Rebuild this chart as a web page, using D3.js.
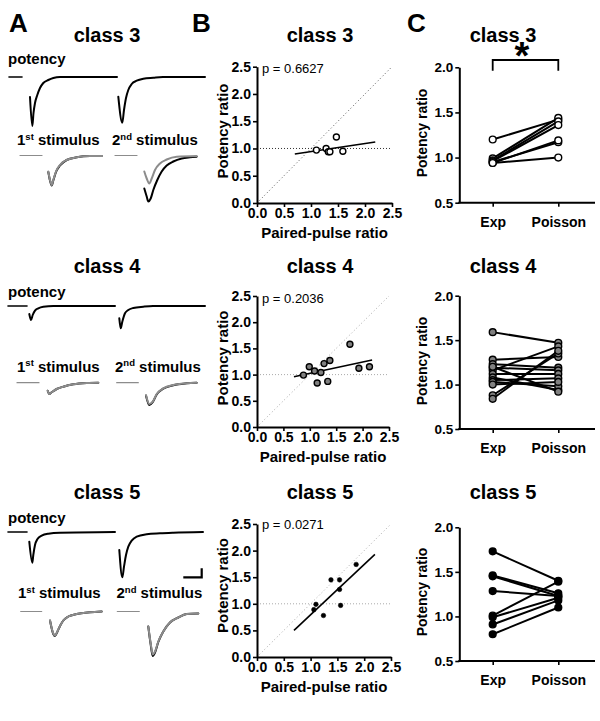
<!DOCTYPE html>
<html><head><meta charset="utf-8">
<script src="https://cdn.jsdelivr.net/npm/d3@7"></script>
<style>
body{margin:0;background:#fff}
svg{display:block}
</style></head><body>
<svg id="c" width="600" height="721"></svg>
<script>
// ================= DATA =================
const classNames = ["class 3", "class 4", "class 5"];
const panelLetters = ["A", "B", "C"];
const traceLabels = ["potency", "1", "st", " stimulus", "2", "nd", " stimulus"];

// Panel A: example traces, [time (ms), current (a.u.)]
const c3PotPre = [[1,0],[14,0]];
const c3Pot1 = [[22,-20],[24.3,-49],[25.5,-36],[27,-26],[29.3,-18],[32,-11],[35.3,-6],[40.3,-3],[45.3,-1],[52,0],[109,0]];
const c3Pot2 = [[110.3,-19.7],[114.3,-45.7],[116,-33],[118,-21],[120.3,-13],[123.7,-7],[128.7,-3.7],[135.3,-1.7],[145.3,-0.7],[155,0],[197,0]];
const c3S1Base = [[12,0],[34,0]];
const c3S1Black = [[40.3,-16.5],[42,-25],[43.7,-30],[45.3,-25],[48,-16.5],[52,-10],[58.7,-4.5],[68.7,-1.8],[82,-0.5],[93.7,-0.5]];
const c3S1Gray = [[40.3,-16],[42,-24.5],[43.7,-29.5],[45.3,-24.5],[48,-16],[52,-9.5],[58.7,-4.5],[68.7,-1.8],[82,-0.5],[93.7,-0.5]];
const c3S2Base = [[107,0],[129,0]];
const c3S2Black = [[136.3,-33],[138.7,-41],[140.3,-46],[142.7,-43],[145.3,-34.5],[149.3,-24.5],[153.7,-16],[158.7,-10],[165.3,-6],[173.7,-3],[182,-1.8],[188.7,-1.2]];
const c3S2Gray = [[136.3,-16],[138.7,-23],[141.3,-28],[143.7,-23],[147,-14.5],[152,-8],[158.7,-4],[168.7,-1.2],[188.7,-0.5]];

const c4PotPre = [[0,0],[19,0]];
const c4Pot1 = [[21.3,-8],[23,-14],[24.7,-9],[27,-4.7],[30.3,-2.3],[35.3,-0.7],[45.3,0],[107,0]];
const c4Pot2 = [[111.3,-12.3],[112.7,-22.3],[114.3,-15.7],[117,-7.3],[120.3,-4],[125.3,-2],[135.3,-0.7],[145,0],[197,0]];
const c4S1Base = [[9,0],[31,0]];
const c4S1Black = [[39.7,-8],[41.3,-11.3],[43.7,-9.6],[48.7,-6.3],[55.3,-4],[65.3,-1.6],[78.7,-0.3],[90.3,0]];
const c4S1Gray = [[39.7,-8],[41.3,-11.3],[43.7,-9.6],[48.7,-6.3],[55.3,-4],[65.3,-1.6],[78.7,-0.3],[90.3,0]];
const c4S2Base = [[108.7,0],[130.3,0]];
const c4S2Black = [[138,-13],[141.3,-22.3],[144.7,-19.5],[148.7,-11.8],[155.3,-6],[165.3,-2.5],[178.7,-0.6],[188.7,0]];
const c4S2Gray = [[138,-12.3],[141.3,-21.3],[144.7,-19],[148.7,-11.3],[155.3,-5.6],[165.3,-2.3],[178.7,-0.6],[188.7,0]];

const c5PotPre = [[0,0],[19,0]];
const c5Pot1 = [[21.3,-9.7],[24.3,-30.7],[25.3,-23],[27,-13],[29.3,-7.3],[33.7,-3.7],[40.3,-1.7],[52,-0.7],[107,0]];
const c5Pot2 = [[111.3,-18],[114.3,-45.3],[116,-34.7],[118,-23],[120.3,-14.7],[123.7,-8.7],[128.7,-4.7],[138.7,-2.3],[152,-1.3],[165.3,-0.7],[195,0]];
const c5S1Base = [[12.7,0],[33.7,0]];
const c5S1Black = [[42,-9],[45.3,-22.5],[47,-24.5],[49.3,-20.5],[52,-14.5],[55.3,-9],[60.3,-5],[68.7,-2.5],[82,-0.8],[93.7,0]];
const c5S1Gray = [[42,-9],[45.3,-22],[47,-24],[49.3,-20],[52,-14.5],[55.3,-9],[60.3,-5],[68.7,-2.5],[82,-0.8],[93.7,0]];
const c5S2Base = [[109.3,0],[131.3,0]];
const c5S2Black = [[140.3,-15],[142.7,-33],[144.7,-44.5],[147,-41],[150.3,-30.5],[155.3,-20],[162,-11],[170.3,-6],[178.7,-2.5],[190.3,-2]];
const c5S2Gray = [[140.3,-15],[142.7,-32],[144.7,-43],[147,-40],[150.3,-30],[155.3,-20],[162,-11],[170.3,-6],[178.7,-2.5],[190.3,-2]];
const scaleBarMs = [175.3, 193.7];
const scaleBarAmp = [0, 9];

// Panel B: paired-pulse ratio vs potency ratio
const ppr3 = [1.10, 1.28, 1.32, 1.35, 1.47, 1.59];
const pot3 = [0.97, 1.00, 0.94, 0.94, 1.21, 0.95];
const ppr4 = [0.88, 0.99, 1.09, 1.14, 1.21, 1.27, 1.34, 1.38, 1.76, 1.93, 2.13];
const pot4 = [0.99, 1.15, 1.07, 0.84, 1.04, 1.21, 0.87, 1.27, 1.58, 1.12, 1.15];
const ppr5 = [1.06, 1.10, 1.24, 1.38, 1.54, 1.54, 1.56, 1.85];
const pot5 = [0.89, 0.99, 0.78, 1.45, 1.45, 1.27, 0.97, 1.74];
const fitX3 = [0.70, 2.19], fitY3 = [0.90, 1.12];
const fitX4 = [0.70, 2.18], fitY4 = [0.96, 1.28];
const fitX5 = [0.69, 2.20], fitY5 = [0.50, 1.93];
const pValues = ["p = 0.6627", "p = 0.2036", "p = 0.0271"];
const bTicks = [0, 0.5, 1.0, 1.5, 2.0, 2.5];
const bXLabel = "Paired-pulse ratio";
const yLabel = "Potency ratio";

// Panel C: Exp vs Poisson potency ratio
const cCats = ["Exp", "Poisson"];
const cTicks = [0.5, 1.0, 1.5, 2.0];
const exp3 = [1.20, 0.99, 0.97, 0.96, 0.95, 0.94, 0.94];
const poi3 = [1.42, 1.44, 1.40, 1.36, 1.17, 1.19, 1.00];
const exp4 = [1.59, 1.28, 1.23, 1.19, 1.16, 1.12, 1.08, 1.05, 1.03, 1.00, 0.88, 0.84, 1.20];
const poi4 = [1.47, 1.31, 1.19, 1.16, 1.43, 1.12, 0.94, 1.07, 0.98, 1.03, 1.35, 1.38, 0.92];
const exp5 = [1.73, 1.46, 1.45, 1.285, 1.01, 0.99, 0.91, 0.80];
const poi5 = [1.40, 1.26, 1.23, 1.23, 1.39, 1.21, 1.18, 1.10];
const sigMark = "*";

// ================= LAYOUT / STYLE =================
const FONT = '"Liberation Sans", Arial, Helvetica, sans-serif';
const svg = d3.select("#c");
const LAY = [
  {title:42, potBase:77, stimBase:155.5, potLbl:64, stimLbl:145, s1x:17, s2x:112,
   B:{x0:257,x1:392,y0:203,y1:66.7,yl:131,p:72.7}, C:{y0:202.7,y1:67.3,yl:133}},
  {title:273, potBase:306, stimBase:382.7, potLbl:296.7, stimLbl:371.7, s1x:17, s2x:115,
   B:{x0:257,x1:389,y0:427,y1:296,yl:358,p:302.7}, C:{y0:429,y1:295.7,yl:361}},
  {title:499, potBase:532, stimBase:611.5, potLbl:523.3, stimLbl:598.3, s1x:18, s2x:116.5,
   B:{x0:257,x1:391,y0:657,y1:524,yl:585.5,p:529.3}, C:{y0:661,y1:527.3,yl:592}}
];
const CX = {x0:459.3, x1:595, a:492.7, b:558.3};
const GRAY = "#8c8c8c";

function txt(x, y, s, size, anchor) {
  return svg.append("text").attr("x", x).attr("y", y).text(s)
    .attr("font-family", FONT).attr("font-weight", "bold")
    .attr("font-size", size).attr("text-anchor", anchor || "start").attr("fill", "#000");
}

// panel letters
txt(9, 32, panelLetters[0], 26);
txt(192, 32, panelLetters[1], 26);
txt(407, 32, panelLetters[2], 26);

// ================= PANEL A =================
const xA = d3.scaleLinear().domain([0, 200]).range([8, 208]);
const traceSets = [
  {pre:c3PotPre, p1:c3Pot1, p2:c3Pot2, s1b:c3S1Base, s1k:c3S1Black, s1g:c3S1Gray, s2b:c3S2Base, s2k:c3S2Black, s2g:c3S2Gray},
  {pre:c4PotPre, p1:c4Pot1, p2:c4Pot2, s1b:c4S1Base, s1k:c4S1Black, s1g:c4S1Gray, s2b:c4S2Base, s2k:c4S2Black, s2g:c4S2Gray},
  {pre:c5PotPre, p1:c5Pot1, p2:c5Pot2, s1b:c5S1Base, s1k:c5S1Black, s1g:c5S1Gray, s2b:c5S2Base, s2k:c5S2Black, s2g:c5S2Gray}
];

LAY.forEach((L, i) => {
  const T = traceSets[i];
  txt(107, L.title, classNames[i], 20, "middle");
  txt(8, L.potLbl, traceLabels[0], 15);
  [[L.s1x, 1], [L.s2x, 4]].forEach(([x, k]) => {
    const t = txt(x, L.stimLbl, "", 15);
    t.append("tspan").text(traceLabels[k]);
    t.append("tspan").attr("font-size", 9.5).attr("dy", -5.5).text(traceLabels[k + 1]);
    t.append("tspan").attr("dy", 5.5).text(traceLabels[k + 2]);
  });
  const yP = d3.scaleLinear().domain([0, -60]).range([L.potBase, L.potBase + 60]);
  const yS = d3.scaleLinear().domain([0, -60]).range([L.stimBase, L.stimBase + 60]);
  const lp = d3.line().x(d => xA(d[0])).y(d => yP(d[1])).curve(d3.curveMonotoneX);
  const ls = d3.line().x(d => xA(d[0])).y(d => yS(d[1])).curve(d3.curveMonotoneX);
  const draw = (gen, data, color, w) => svg.append("path").attr("d", gen(data))
    .attr("fill", "none").attr("stroke", color).attr("stroke-width", w)
    .attr("stroke-linejoin", "round").attr("stroke-linecap", "round");
  draw(lp, T.pre, "#000", 1.6);
  draw(lp, T.p1, "#000", 2);
  draw(lp, T.p2, "#000", 2);
  draw(ls, T.s1b, GRAY, 1.2);
  draw(ls, T.s2b, GRAY, 1.2);
  draw(ls, T.s1k, "#000", 2);
  draw(ls, T.s2k, "#000", 2);
  draw(ls, T.s1g, GRAY, 2);
  draw(ls, T.s2g, GRAY, 2);
  if (i === 2) {
    const ySB = d3.scaleLinear().domain([0, 60]).range([L.potBase + 45.3, L.potBase - 14.7]);
    svg.append("path")
      .attr("d", `M${xA(scaleBarMs[0])},${ySB(scaleBarAmp[0])}H${xA(scaleBarMs[1])}V${ySB(scaleBarAmp[1])}`)
      .attr("fill", "none").attr("stroke", "#000").attr("stroke-width", 2.2);
  }
});

// ================= PANEL B =================
const bData = [
  {x:ppr3, y:pot3, fx:fitX3, fy:fitY3},
  {x:ppr4, y:pot4, fx:fitX4, fy:fitY4},
  {x:ppr5, y:pot5, fx:fitX5, fy:fitY5}
];
function styleAxis(g, size) {
  g.attr("font-family", FONT).attr("font-weight", "bold").attr("font-size", size);
  g.select(".domain").attr("stroke", "#000").attr("stroke-width", 2);
  g.selectAll(".tick line").attr("stroke", "#000").attr("stroke-width", 1.6);
  g.selectAll(".tick text").attr("fill", "#000");
}
LAY.forEach((L, i) => {
  const P = L.B, D = bData[i];
  txt(320, L.title, classNames[i], 20, "middle");
  const x = d3.scaleLinear().domain([0, 2.5]).range([P.x0, P.x1]);
  const y = d3.scaleLinear().domain([0, 2.5]).range([P.y0, P.y1]);
  const refColor = i === 0 ? "#333" : "#aaa";
  svg.append("line").attr("x1", x(0)).attr("y1", y(0)).attr("x2", x(2.5)).attr("y2", y(2.5))
    .attr("stroke", i === 0 ? "#555" : "#aaa").attr("stroke-width", 1).attr("stroke-dasharray", "1,2.5");
  svg.append("line").attr("x1", x(0)).attr("y1", y(1)).attr("x2", x(2.5)).attr("y2", y(1))
    .attr("stroke", refColor).attr("stroke-width", 1).attr("stroke-dasharray", "1,2");
  svg.append("line").attr("x1", x(D.fx[0])).attr("y1", y(D.fy[0])).attr("x2", x(D.fx[1])).attr("y2", y(D.fy[1]))
    .attr("stroke", "#000").attr("stroke-width", 1.6);
  const pts = D.x.map((v, k) => [v, D.y[k]]);
  svg.append("g").selectAll("circle").data(pts).join("circle")
    .attr("cx", d => x(d[0])).attr("cy", d => y(d[1]))
    .attr("r", i === 2 ? 2.3 : 3)
    .attr("fill", i === 0 ? "#fff" : (i === 1 ? "#808080" : "#000"))
    .attr("stroke", "#000").attr("stroke-width", i === 2 ? 0.5 : 1.4);
  const gy = svg.append("g").attr("transform", `translate(${P.x0},0)`)
    .call(d3.axisLeft(y).tickValues(bTicks).tickFormat(d3.format(".1f")).tickSize(4).tickSizeOuter(0).tickPadding(2));
  styleAxis(gy, 14);
  const gx = svg.append("g").attr("transform", `translate(0,${P.y0})`)
    .call(d3.axisBottom(x).tickValues(bTicks).tickFormat(d3.format(".1f")).tickSize(4).tickSizeOuter(0).tickPadding(1));
  styleAxis(gx, 14);
  txt(262, P.p, pValues[i], 13).attr("font-weight", "normal");
  txt((P.x0 + P.x1) / 2, P.y0 + 35, bXLabel, 15, "middle");
  txt(0, 0, yLabel, 15, "middle").attr("transform", `translate(228,${P.yl}) rotate(-90)`);
});

// ================= PANEL C =================
const cData = [[exp3, poi3], [exp4, poi4], [exp5, poi5]];
LAY.forEach((L, i) => {
  const P = L.C;
  txt(503, L.title, classNames[i], 20, "middle");
  const x = d3.scalePoint().domain(cCats).range([CX.a, CX.b]);
  const y = d3.scaleLinear().domain([0.5, 2.0]).range([P.y0, P.y1]);
  const [e, p] = cData[i];
  const pairs = e.map((v, k) => [v, p[k]]);
  svg.append("g").selectAll("line").data(pairs).join("line")
    .attr("x1", x(cCats[0])).attr("x2", x(cCats[1]))
    .attr("y1", d => y(d[0])).attr("y2", d => y(d[1]))
    .attr("stroke", "#000").attr("stroke-width", 2);
  const fill = i === 0 ? "#fff" : (i === 1 ? "#808080" : "#000");
  const pts = [];
  pairs.forEach(d => { pts.push([cCats[0], d[0]]); pts.push([cCats[1], d[1]]); });
  svg.append("g").selectAll("circle").data(pts).join("circle")
    .attr("cx", d => x(d[0])).attr("cy", d => y(d[1])).attr("r", 3.4)
    .attr("fill", fill).attr("stroke", "#000").attr("stroke-width", 1.4);
  const gy = svg.append("g").attr("transform", `translate(${CX.x0},0)`)
    .call(d3.axisLeft(y).tickValues(cTicks).tickFormat(d3.format(".1f")).tickSize(4).tickSizeOuter(0).tickPadding(2));
  styleAxis(gy, 13.5);
  const gx = svg.append("g").attr("transform", `translate(0,${P.y0})`)
    .call(d3.axisBottom(x).tickSize(4).tickSizeOuter(0).tickPadding(10));
  styleAxis(gx, 14);
  gx.select(".domain").remove();
  svg.append("line").attr("x1", CX.x0 - 1).attr("x2", CX.x1).attr("y1", P.y0).attr("y2", P.y0)
    .attr("stroke", "#000").attr("stroke-width", 2);
  txt(0, 0, yLabel, 14, "middle").attr("transform", `translate(426.7,${P.yl}) rotate(-90)`);
  if (i === 0) {
    svg.append("path").attr("d", `M${x(cCats[0])},70.7V60H${x(cCats[1])}V70.7`)
      .attr("fill", "none").attr("stroke", "#000").attr("stroke-width", 1.8);
    txt(522, 69, sigMark, 38, "middle");
  }
});
</script>
</body></html>
